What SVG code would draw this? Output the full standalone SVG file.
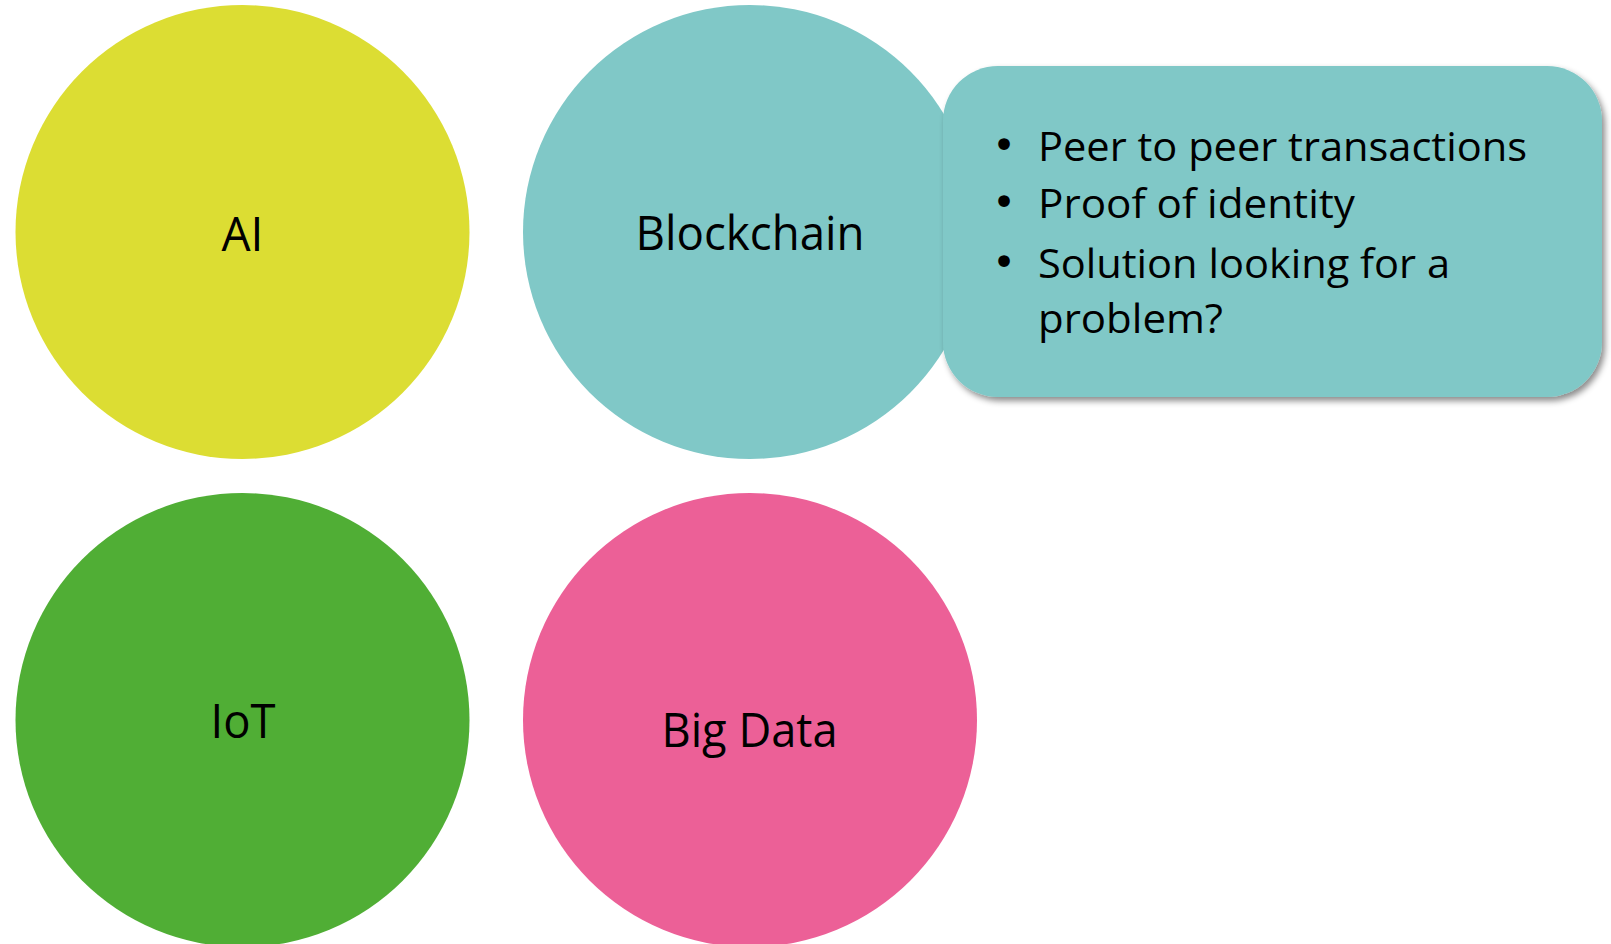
<svg xmlns="http://www.w3.org/2000/svg" width="1611" height="944" viewBox="0 0 1611 944">
  <style>
    .lbl { font-family: "Open Sans", "Noto Sans", "Liberation Sans", sans-serif; fill: #000; text-anchor: middle; }
    .big { font-size: 47px; }
    .item { font-family: "Open Sans", "Noto Sans", "Liberation Sans", sans-serif; font-size: 41px; fill: #000; }
    .bullet { font-family: "DejaVu Sans", "Liberation Sans", sans-serif; font-size: 40px; fill: #000; text-anchor: middle; }
  </style>
  <defs>
    <filter id="shadow" x="-5%" y="-5%" width="115%" height="120%">
      <feDropShadow dx="3" dy="4" stdDeviation="3" flood-color="#000" flood-opacity="0.45"/>
    </filter>
  </defs>
  <rect width="1611" height="944" fill="#ffffff"/>
  <g id="connectors"></g>
  <g id="node-ai">
    <circle cx="242.5" cy="232" r="227" fill="#dcdd33"/>
    <text class="lbl big" x="242.5" y="251" textLength="42" lengthAdjust="spacingAndGlyphs">AI</text>
  </g>
  <g id="node-blockchain">
    <circle cx="750" cy="232" r="227" fill="#80c8c7"/>
    <text class="lbl big" x="750" y="250" textLength="229" lengthAdjust="spacingAndGlyphs">Blockchain</text>
  </g>
  <g id="node-iot">
    <circle cx="242.5" cy="720" r="227" fill="#50ae35"/>
    <text class="lbl big" x="243" y="738" textLength="65" lengthAdjust="spacingAndGlyphs">IoT</text>
  </g>
  <g id="node-bigdata">
    <circle cx="750" cy="720" r="227" fill="#ec6097"/>
    <text class="lbl big" x="749.5" y="747" textLength="176" lengthAdjust="spacingAndGlyphs">Big Data</text>
  </g>
  <g id="node-blockchain-details">
    <rect x="943" y="66" width="659" height="331" rx="55" ry="55" fill="#80c8c7" filter="url(#shadow)"/>
    <text class="bullet" x="1004" y="159">•</text>
    <text class="item" x="1038" y="161" textLength="489" lengthAdjust="spacingAndGlyphs">Peer to peer transactions</text>
    <text class="bullet" x="1004" y="216">•</text>
    <text class="item" x="1038" y="218" textLength="317" lengthAdjust="spacingAndGlyphs">Proof of identity</text>
    <text class="bullet" x="1004" y="276">•</text>
    <text class="item" x="1038" y="278" textLength="412" lengthAdjust="spacingAndGlyphs">Solution looking for a</text>
    <text class="item" x="1038" y="333" textLength="185" lengthAdjust="spacingAndGlyphs">problem?</text>
  </g>
</svg>
